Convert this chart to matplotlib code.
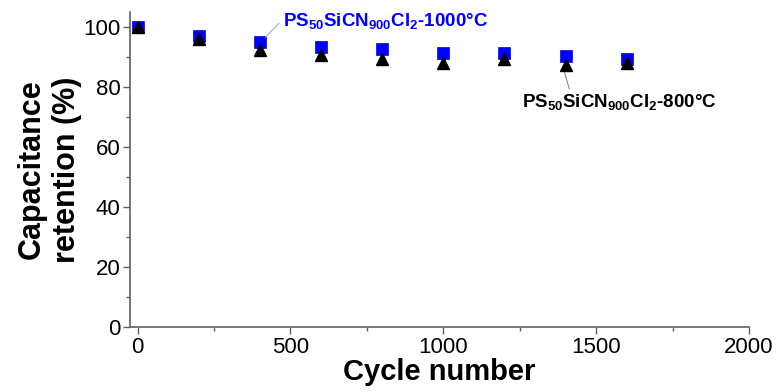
import matplotlib
matplotlib.use("Agg")
import matplotlib.pyplot as plt
from matplotlib.ticker import MultipleLocator

plt.rcParams['font.family'] = ['Liberation Sans', 'DejaVu Sans']
plt.rcParams['mathtext.fontset'] = 'custom'
plt.rcParams['mathtext.rm'] = 'Liberation Sans'
plt.rcParams['mathtext.bf'] = 'Liberation Sans:bold'

cycles = [0, 200, 400, 600, 800, 1000, 1200, 1400, 1600]
ret_1000 = [100, 97.0, 95.0, 93.3, 92.8, 91.4, 91.2, 90.4, 89.4]
ret_800 = [100, 95.9, 92.3, 90.7, 89.2, 88.1, 89.2, 87.3, 87.9]
label_1000 = r'PS$_{\bf 50}$SiCN$_{\bf 900}$Cl$_{\bf 2}$-1000°C'
label_800 = r'PS$_{\bf 50}$SiCN$_{\bf 900}$Cl$_{\bf 2}$-800°C'

fig = plt.figure(figsize=(7.77, 3.92), dpi=100)
ax = fig.add_axes([130 / 777, 1 - 327 / 392, (749 - 130) / 777, (327 - 12) / 392])

ax.plot(cycles, ret_1000, 's', color='#0000ff', markersize=8.5, markeredgecolor='#0000dd',
        markeredgewidth=0.5, zorder=3)
ax.plot(cycles, ret_800, '^', color='black', markersize=8.5, zorder=4)

ax.set_xlim(-25, 2000)
ax.set_ylim(0, 105)
ax.xaxis.set_major_locator(MultipleLocator(500))
ax.xaxis.set_minor_locator(MultipleLocator(250))
ax.yaxis.set_major_locator(MultipleLocator(20))
ax.yaxis.set_minor_locator(MultipleLocator(10))

for s in ['top', 'right']:
    ax.spines[s].set_visible(False)
for s in ['left', 'bottom']:
    ax.spines[s].set_color('#606060')
    ax.spines[s].set_linewidth(1.2)
ax.tick_params(which='both', direction='out', color='#606060', width=1.0)
ax.tick_params(which='major', length=5, labelsize=16, pad=2)
ax.tick_params(which='minor', length=3)

ax.set_xlabel('Cycle number', fontsize=21, fontweight='bold', labelpad=0)
ax.set_ylabel('Capacitance\nretention (%)', fontsize=22, fontweight='bold', labelpad=1,
              linespacing=1.2)

ax.annotate(label_1000, xy=(cycles[2] + 15, ret_1000[2] + 1.2), xytext=(475, 100),
            fontsize=13.5, fontweight='bold', color='#0000ff', va='baseline', ha='left',
            arrowprops=dict(arrowstyle='-', color='#aaaaee', lw=0.8, shrinkA=1, shrinkB=1,
                            relpos=(0, 0.65)))
ax.annotate(label_800, xy=(cycles[7] - 5, ret_800[7] - 2.0), xytext=(1257, 73),
            fontsize=13.5, fontweight='bold', color='black', va='baseline', ha='left',
            arrowprops=dict(arrowstyle='-', color='#888888', lw=0.8, shrinkA=1, shrinkB=1,
                            relpos=(0.25, 1)))

fig.savefig('out.png', dpi=100)
